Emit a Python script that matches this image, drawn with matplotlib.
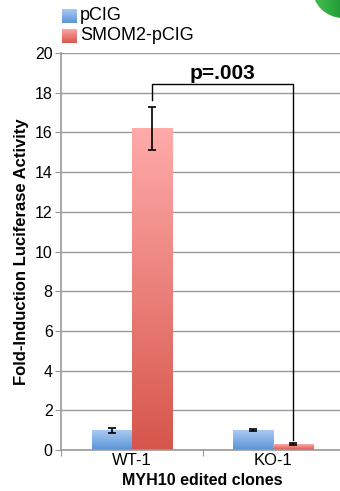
import numpy as np
import matplotlib
matplotlib.use("Agg")
import matplotlib.pyplot as plt
from matplotlib.patches import Rectangle, Circle
from matplotlib.colors import LinearSegmentedColormap

plt.rcParams["font.family"] = ["Liberation Sans", "DejaVu Sans"]

categories = ["WT-1", "KO-1"]
series = ["pCIG", "SMOM2-pCIG"]
pcig_vals = [1.0, 1.0]
pcig_err = [0.13, 0.05]
smom_vals = [16.2, 0.3]
smom_err = [1.1, 0.04]
p_label = "p=.003"
yticks = [0, 2, 4, 6, 8, 10, 12, 14, 16, 18, 20]

blue_cmap = LinearSegmentedColormap.from_list("b", ["#5a92d8", "#a9cbf2"])
red_cmap = LinearSegmentedColormap.from_list("r", ["#d6564b", "#ffabaa"])
green_cmap = LinearSegmentedColormap.from_list("g", ["#4fc352", "#1f9a36", "#137a2b"])

fig = plt.figure(figsize=(3.4, 4.91), dpi=100)
ax = fig.add_axes([61 / 340, 1 - 450 / 491, 283 / 340, 397 / 491])
ax.set_xlim(-0.5, 1.5)
ax.set_ylim(0, 20)

w = 0.283
grad = np.linspace(0, 1, 256).reshape(-1, 1)


def gradient_bar(x0, h, cmap):
    rect = Rectangle((x0, 0), w, h, facecolor="none", edgecolor="none")
    ax.add_patch(rect)
    im = ax.imshow(grad, cmap=cmap, origin="lower", aspect="auto",
                   extent=(x0, x0 + w, 0, h), zorder=2)
    im.set_clip_path(rect)


xs = np.arange(len(categories))
for i in xs:
    gradient_bar(i - w, pcig_vals[i], blue_cmap)
    gradient_bar(i, smom_vals[i], red_cmap)

ax.errorbar(xs - w / 2, pcig_vals, yerr=pcig_err, fmt="none", ecolor="black",
            elinewidth=1.2, capsize=3, capthick=1.2, zorder=4)
ax.errorbar(xs + w / 2, smom_vals, yerr=smom_err, fmt="none", ecolor="black",
            elinewidth=1.2, capsize=3, capthick=1.2, zorder=4)

# significance bracket
y_br = 18.45
ax.plot([0 + w / 2, 0 + w / 2, 1 + w / 2, 1 + w / 2],
        [smom_vals[0] + smom_err[0] + 0.35, y_br, y_br, smom_vals[1] + smom_err[1] + 0.15],
        color="black", lw=1.0, zorder=5)
ax.text((0 + 1 + w) / 2, y_br + 0.02, p_label, ha="center", va="bottom",
        fontsize=15, fontweight="bold", zorder=5)

ax.set_yticks(yticks)
ax.set_yticklabels([str(t) for t in yticks], fontsize=11.5)
ax.yaxis.grid(True, color="#9a9a9a", lw=1.0)
ax.set_axisbelow(True)
ax.set_xticks([-0.5, 0.5, 1.5])
ax.set_xticklabels([])
ax.set_xticks(xs, minor=True)
ax.set_xticklabels(categories, minor=True, fontsize=12)
ax.tick_params(axis="x", which="minor", length=0, pad=2)
ax.tick_params(axis="x", which="major", length=4, color="#9a9a9a", direction="out")
ax.tick_params(axis="y", length=4, color="#9a9a9a", pad=2)
for s in ["top", "right"]:
    ax.spines[s].set_visible(False)
for s in ["left", "bottom"]:
    ax.spines[s].set_color("#9a9a9a")
    ax.spines[s].set_linewidth(1.2)

ax.set_ylabel("Fold-Induction Luciferase Activity", fontsize=12, fontweight="bold", labelpad=4)
ax.set_xlabel("MYH10 edited clones", fontsize=11.5, fontweight="bold", labelpad=4)

# legend with gradient swatches
for k, (name, cmap) in enumerate(zip(series, [blue_cmap, red_cmap])):
    ytop = 9 + k * 20
    sax = fig.add_axes([62 / 340, 1 - (ytop + 14) / 491, 15 / 340, 14 / 491])
    sax.imshow(grad, cmap=cmap, origin="lower", aspect="auto", extent=(0, 1, 0, 1))
    sax.axis("off")
    fig.text(80 / 340, 1 - (ytop + 7) / 491, name, fontsize=13, va="center", ha="left")

# green badge in the top-right corner (pixel coordinates of the figure)
bax = fig.add_axes([0, 0, 1, 1], zorder=10)
bax.set_xlim(0, 340)
bax.set_ylim(491, 0)
bax.axis("off")
badge = Circle((343, -13), 31, facecolor="none", edgecolor="none")
bax.add_patch(badge)
hgrad = np.linspace(0, 1, 256).reshape(1, -1)
gim = bax.imshow(hgrad, cmap=green_cmap, aspect="auto", extent=(310, 375, 20, -45))
gim.set_clip_path(badge)
bax.set_xlim(0, 340)
bax.set_ylim(491, 0)

fig.savefig("out.png", dpi=100)
